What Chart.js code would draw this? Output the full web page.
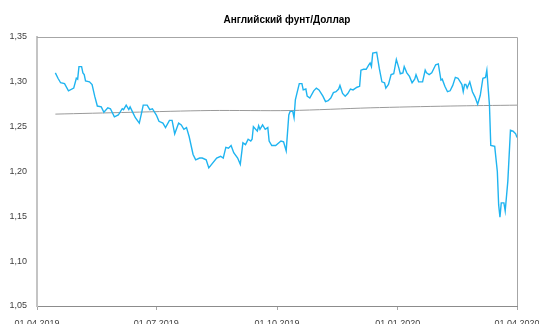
<!DOCTYPE html>
<html>
<head>
<meta charset="utf-8">
<script src="https://cdn.jsdelivr.net/npm/chart.js@4.4.1/dist/chart.umd.min.js"></script>
<style>
  html, body { margin: 0; padding: 0; background: #ffffff; }
  #wrap { width: 539px; height: 324px; position: relative; }
</style>
</head>
<body>
<div id="wrap"><canvas id="c" width="539" height="324"></canvas></div>
<script>
// GBP/USD daily closes
const tradeDates = [
  '2019-04-15','2019-04-17','2019-04-19','2019-04-22','2019-04-25','2019-04-29','2019-05-01','2019-05-02',
  '2019-05-03','2019-05-05','2019-05-06','2019-05-07','2019-05-08','2019-05-11','2019-05-13','2019-05-15',
  '2019-05-17','2019-05-20','2019-05-22','2019-05-25','2019-05-27','2019-05-30','2019-06-02','2019-06-05',
  '2019-06-06','2019-06-08','2019-06-10','2019-06-11','2019-06-13','2019-06-15','2019-06-18','2019-06-20',
  '2019-06-21','2019-06-24','2019-06-26','2019-06-28','2019-07-01','2019-07-03','2019-07-06','2019-07-08',
  '2019-07-11','2019-07-13','2019-07-15','2019-07-18','2019-07-20','2019-07-22','2019-07-24','2019-07-26',
  '2019-07-29','2019-07-31','2019-08-03','2019-08-05','2019-08-08','2019-08-10','2019-08-16','2019-08-19',
  '2019-08-21','2019-08-23','2019-08-25','2019-08-27','2019-08-29','2019-09-01','2019-09-03','2019-09-05',
  '2019-09-07','2019-09-09','2019-09-11','2019-09-12','2019-09-13','2019-09-16','2019-09-17','2019-09-18',
  '2019-09-20','2019-09-22','2019-09-24','2019-09-25','2019-09-27','2019-09-30','2019-10-04','2019-10-06',
  '2019-10-08','2019-10-10','2019-10-11','2019-10-13','2019-10-14','2019-10-15','2019-10-16','2019-10-18',
  '2019-10-20','2019-10-21','2019-10-23','2019-10-24','2019-10-26','2019-10-29','2019-10-31','2019-11-02',
  '2019-11-05','2019-11-07','2019-11-09','2019-11-11','2019-11-13','2019-11-15','2019-11-17','2019-11-18',
  '2019-11-20','2019-11-22','2019-11-24','2019-11-26','2019-11-28','2019-12-01','2019-12-03','2019-12-04',
  '2019-12-06','2019-12-08','2019-12-10','2019-12-11','2019-12-12','2019-12-13','2019-12-16','2019-12-18',
  '2019-12-20','2019-12-22','2019-12-23','2019-12-25','2019-12-27','2019-12-29','2019-12-31','2020-01-02',
  '2020-01-03','2020-01-05','2020-01-06','2020-01-08','2020-01-10','2020-01-12','2020-01-14','2020-01-15',
  '2020-01-17','2020-01-20','2020-01-22','2020-01-23','2020-01-25','2020-01-27','2020-01-30','2020-02-01',
  '2020-02-03','2020-02-04','2020-02-06','2020-02-08','2020-02-10','2020-02-12','2020-02-14','2020-02-16',
  '2020-02-19','2020-02-20','2020-02-21','2020-02-22','2020-02-23','2020-02-25','2020-02-27','2020-02-29',
  '2020-03-02','2020-03-04','2020-03-06','2020-03-08','2020-03-09','2020-03-10','2020-03-11','2020-03-12',
  '2020-03-15','2020-03-17','2020-03-18','2020-03-19','2020-03-20','2020-03-22','2020-03-23','2020-03-25',
  '2020-03-27','2020-03-29','2020-03-31','2020-04-01'
];
const gbpUsd = [
  1.310,1.304,1.299,1.298,1.290,1.293,1.304,1.303,
  1.317,1.317,1.310,1.308,1.301,1.300,1.297,1.284,
  1.273,1.272,1.266,1.271,1.270,1.261,1.263,1.270,
  1.269,1.274,1.269,1.272,1.266,1.260,1.254,1.267,
  1.274,1.274,1.269,1.270,1.263,1.256,1.254,1.249,
  1.257,1.257,1.242,1.254,1.252,1.247,1.249,1.239,
  1.219,1.213,1.215,1.215,1.213,1.204,1.215,1.217,
  1.215,1.227,1.226,1.229,1.221,1.215,1.208,1.232,
  1.230,1.236,1.234,1.236,1.250,1.245,1.251,1.247,
  1.252,1.247,1.249,1.234,1.229,1.229,1.234,1.233,
  1.223,1.263,1.267,1.267,1.260,1.280,1.286,1.298,
  1.298,1.291,1.292,1.284,1.282,1.290,1.293,1.291,
  1.284,1.278,1.279,1.282,1.288,1.289,1.292,1.296,
  1.287,1.284,1.287,1.292,1.291,1.294,1.295,1.313,
  1.314,1.314,1.319,1.321,1.317,1.332,1.333,1.315,
  1.300,1.299,1.293,1.297,1.308,1.309,1.325,1.315,
  1.309,1.310,1.317,1.310,1.306,1.299,1.303,1.308,
  1.300,1.300,1.313,1.310,1.308,1.310,1.319,1.320,
  1.302,1.303,1.295,1.289,1.290,1.296,1.305,1.304,
  1.297,1.289,1.297,1.297,1.293,1.300,1.289,1.283,
  1.275,1.285,1.304,1.305,1.313,1.293,1.274,1.229,
  1.228,1.200,1.163,1.149,1.165,1.165,1.156,1.189,
  1.246,1.245,1.242,1.238
];

// long-run average line
const avgDates = ['2019-04-15','2019-06-11','2019-08-11','2019-10-11','2019-12-11','2020-02-10','2020-04-01'];
const avgValues = [1.264, 1.266, 1.268, 1.268, 1.271, 1.273, 1.274];

// axis ticks
const tickDates = ['2019-04-01','2019-07-01','2019-10-01','2020-01-01','2020-04-01'];
const tickLabels = ['01.04.2019','01.07.2019','01.10.2019','01.01.2020','01.04.2020'];
const yMin = 1.05, yMax = 1.35, yStep = 0.05;

const chartTitle = 'Английский фунт/Доллар';

// day offsets from the first axis date
const DAY = 86400000;
const origin = Date.parse(tickDates[0] + 'T00:00:00Z');
const toDay = d => Math.round((Date.parse(d + 'T00:00:00Z') - origin) / DAY);

const rateData = tradeDates.map((d, i) => ({ x: toDay(d), y: gbpUsd[i] }));
const avgData = avgDates.map((d, i) => ({ x: toDay(d), y: avgValues[i] }));
const tickDays = tickDates.map(toDay);

// thin frame on the top and right of the plot area, plus the title above it
const frame = {
  id: 'frame',
  afterDraw(chart) {
    const { ctx, chartArea: a } = chart;
    ctx.save();
    ctx.strokeStyle = '#a6a6a6';
    ctx.lineWidth = 1;
    ctx.beginPath();
    ctx.moveTo(a.left, Math.round(a.top) + 0.5);
    ctx.lineTo(Math.round(a.right) + 0.5, Math.round(a.top) + 0.5);
    ctx.lineTo(Math.round(a.right) + 0.5, a.bottom);
    ctx.stroke();

    ctx.fillStyle = '#000000';
    ctx.font = 'bold 10px "Liberation Sans", Arial, sans-serif';
    ctx.textAlign = 'center';
    ctx.textBaseline = 'middle';
    ctx.fillText(chartTitle, (a.left + a.right) / 2 + 10, a.top - 17);
    ctx.restore();
  }
};

new Chart(document.getElementById('c'), {
  type: 'line',
  data: {
    datasets: [
      {
        label: 'GBP/USD',
        data: rateData,
        borderColor: '#1fb4f0',
        borderWidth: 1.4,
        pointRadius: 0,
        tension: 0,
        fill: false,
        order: 1
      },
      {
        label: 'average',
        data: avgData,
        borderColor: '#9a9a9a',
        borderWidth: 1,
        pointRadius: 0,
        tension: 0.3,
        fill: false,
        order: 2
      }
    ]
  },
  options: {
    responsive: false,
    animation: false,
    layout: { padding: { left: 0, right: 22, top: 37, bottom: 0 } },
    plugins: {
      legend: { display: false },
      tooltip: { enabled: false },
      title: { display: false }
    },
    scales: {
      x: {
        type: 'linear',
        min: tickDays[0],
        max: tickDays[tickDays.length - 1],
        afterBuildTicks(scale) {
          scale.ticks = tickDays.map(v => ({ value: v }));
        },
        afterFit(scale) {
          scale.height = 18;
          scale.paddingLeft = 0;
          scale.paddingRight = 0;
        },
        ticks: {
          autoSkip: false,
          maxRotation: 0,
          minRotation: 0,
          padding: 8,
          color: '#404040',
          font: { family: 'Liberation Sans', size: 9 },
          callback: (v) => tickLabels[tickDays.indexOf(v)] || ''
        },
        grid: {
          display: true,
          drawOnChartArea: false,
          drawTicks: true,
          tickLength: 4,
          color: '#a6a6a6'
        },
        border: { display: true, color: '#8c8c8c', width: 1 }
      },
      y: {
        min: yMin,
        max: yMax,
        afterFit(scale) { scale.width = 37; },
        ticks: {
          stepSize: yStep,
          padding: 10,
          color: '#404040',
          font: { family: 'Liberation Sans', size: 9 },
          callback: (v) => v.toFixed(2).replace('.', ',')
        },
        grid: { display: false, drawTicks: false },
        border: { display: true, color: '#c4c4c4', width: 2 }
      }
    }
  },
  plugins: [frame]
});
</script>
</body>
</html>
